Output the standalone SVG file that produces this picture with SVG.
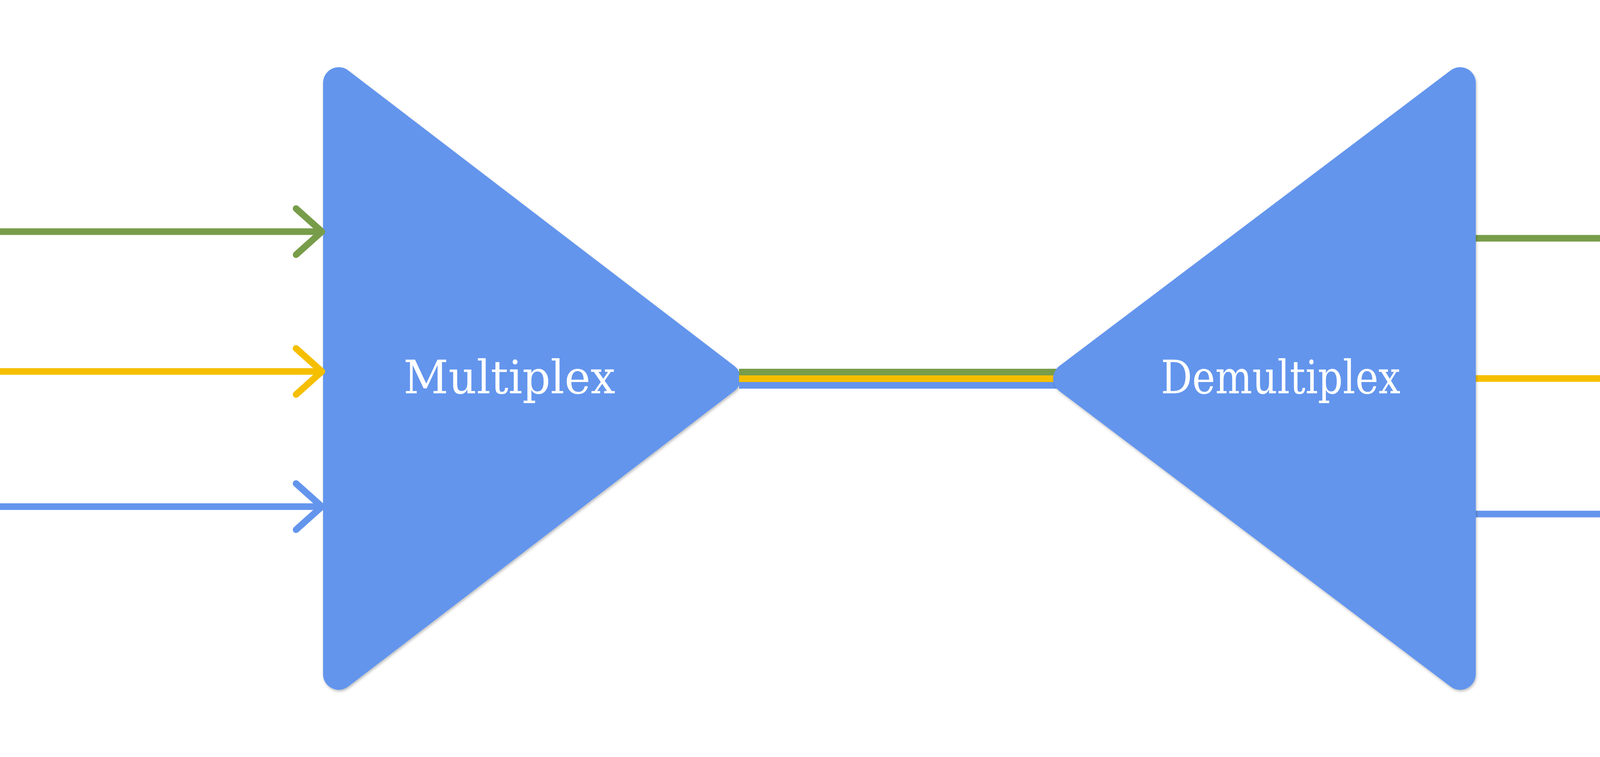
<svg xmlns="http://www.w3.org/2000/svg" width="4601" height="1938" viewBox="0 0 4601 1938">
<style>
.tri{fill:#6495ED;stroke:#6495ED;stroke-width:80;stroke-linejoin:round;filter:url(#sh)}
.lbl{font-family:"DejaVu Serif","Liberation Serif",serif;font-size:118px;fill:#FFFFFF}
.ln{fill:none;stroke-width:17;stroke-linecap:butt}
.hd{fill:none;stroke-width:17;stroke-linecap:round;stroke-linejoin:round}
.g{stroke:#789D4A}.y{stroke:#F5BF00}.b{stroke:#6495ED}
</style>
<defs>
<filter id="sh" x="-10%" y="-10%" width="120%" height="120%">
<feDropShadow dx="2" dy="4" stdDeviation="3" flood-color="#000" flood-opacity="0.25"/>
</filter>
</defs>
<rect width="4601" height="1938" fill="#FFFFFF"/>
<g id="mux">
<polygon class="tri" points="867,212 1856,969 867,1726"/>
<text class="lbl" x="1033" y="1007" textLength="542" lengthAdjust="spacingAndGlyphs">Multiplex</text>
</g>
<g id="connectors">
<line class="ln g" x1="0" y1="593" x2="818" y2="593"/>
<polyline class="hd g" points="758,534 824,593 758,652"/>
<line class="ln y" x1="0" y1="951" x2="818" y2="951"/>
<polyline class="hd y" points="758,892 824,951 758,1010"/>
<line class="ln b" x1="0" y1="1297" x2="818" y2="1297"/>
<polyline class="hd b" points="758,1238 824,1297 758,1356"/>
<rect x="1892" y="944" width="848" height="17" fill="#789D4A"/>
<rect x="1892" y="961" width="848" height="17" fill="#F5BF00"/>
<rect x="1892" y="978" width="848" height="17" fill="#6495ED"/>
<line class="ln g" x1="3770" y1="610" x2="4592" y2="610"/>
<polyline class="hd g" points="4532,551 4596,610 4532,669"/>
<line class="ln y" x1="3770" y1="969" x2="4592" y2="969"/>
<polyline class="hd y" points="4532,910 4596,969 4532,1028"/>
<line class="ln b" x1="3770" y1="1316" x2="4592" y2="1316"/>
<polyline class="hd b" points="4532,1257 4596,1316 4532,1375"/>
</g>
<g id="demux">
<polygon class="tri" points="3738,212 3738,1726 2736,969"/>
<text class="lbl" x="2972" y="1007" textLength="613" lengthAdjust="spacingAndGlyphs">Demultiplex</text>
</g>
</svg>
